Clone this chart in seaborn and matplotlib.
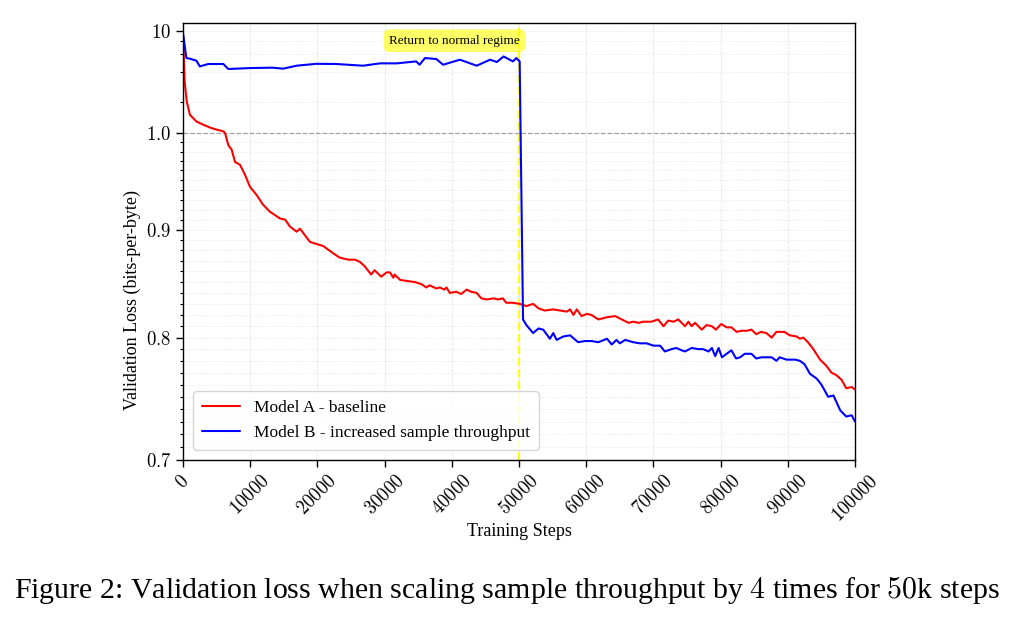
import numpy as np
import pandas as pd
import matplotlib
matplotlib.use("Agg")
import matplotlib.pyplot as plt
import matplotlib.ticker as mticker
import seaborn as sns

# ---------------- data ----------------
red_steps = [0, 250, 550, 1040, 2000, 3000, 4000, 4700, 6000, 6250, 6740, 7240, 7740, 8480, 9230,
             9970, 10920, 11900, 12900, 14430, 15180, 15920, 16920, 17400, 18900, 20880, 22370,
             23300, 24600, 25600, 26300, 27000, 28000, 28500, 29500, 30300, 30800, 31300, 31500,
             32300, 33300, 34500, 35500, 36200, 36700, 37700, 38200, 38900, 39200, 39700, 40700,
             41400, 42200, 42900, 43700, 44400, 45200, 46200, 46900, 47600, 48100, 49100, 50100,
             51100, 52100, 52900, 53800, 55100, 56100, 57100, 57600, 58100, 58600, 59300, 60100,
             60800, 61800, 63100, 64300, 65300, 66300, 67000, 67800, 68500, 69700, 70700, 71500,
             72200, 73000, 73700, 74700, 75200, 75700, 76200, 77200, 77900, 78700, 79300, 80100,
             80900, 81600, 82400, 83100, 83900, 84600, 85300, 86000, 86800, 87600, 88300, 89500,
             90300, 91300, 91800, 92300, 93000, 93800, 94800, 95700, 96500, 97200, 98000, 98700,
             99500, 100000]
red_loss = [9.3, 3.2, 2.05, 1.51, 1.30, 1.21, 1.135, 1.095, 1.04, 1.005, 0.987, 0.982, 0.969, 0.966,
            0.9555, 0.943, 0.935, 0.925, 0.918, 0.911, 0.910, 0.903, 0.898, 0.901, 0.888, 0.884,
            0.877, 0.873, 0.871, 0.871, 0.869, 0.865, 0.857, 0.861, 0.855, 0.859, 0.859, 0.854,
            0.857, 0.852, 0.851, 0.850, 0.848, 0.845, 0.847, 0.844, 0.845, 0.843, 0.845, 0.840,
            0.841, 0.839, 0.843, 0.841, 0.840, 0.835, 0.834, 0.835, 0.834, 0.835, 0.831, 0.831,
            0.830, 0.828, 0.830, 0.826, 0.824, 0.825, 0.824, 0.823, 0.825, 0.820, 0.825, 0.819,
            0.821, 0.820, 0.816, 0.818, 0.819, 0.816, 0.813, 0.814, 0.813, 0.814, 0.814, 0.816,
            0.810, 0.815, 0.814, 0.816, 0.810, 0.814, 0.810, 0.813, 0.807, 0.811, 0.810, 0.807,
            0.812, 0.809, 0.809, 0.805, 0.806, 0.806, 0.807, 0.803, 0.805, 0.804, 0.800, 0.805,
            0.805, 0.802, 0.801, 0.799, 0.800, 0.796, 0.790, 0.781, 0.776, 0.770, 0.768, 0.764,
            0.757, 0.758, 0.756]

blue_steps = [0, 500, 1000, 2000, 2500, 3770, 6000, 6750, 10000, 13300, 14900, 16900, 19800, 22800,
              26800, 29300, 31800, 34700, 35200, 36000, 37700, 38700, 41200, 43700, 45700, 46700,
              47700, 49100, 49600, 50100, 50600, 51100, 52100, 52900, 53600, 54600, 55100, 55600,
              56600, 57600, 58800, 59800, 60800, 61800, 63100, 63800, 64500, 65000, 65800, 67000,
              68000, 69000, 70000, 71000, 71700, 72700, 73400, 74200, 74700, 75700, 76700, 77400,
              78200, 78700, 79200, 79700, 80200, 80900, 81600, 82300, 82900, 83600, 84600, 85300,
              86100, 87000, 87600, 88300, 88800, 89800, 91100, 91800, 92500, 93300, 94300, 95000,
              96000, 96800, 97800, 98700, 99500, 100000]
blue_loss = [9.64, 5.47, 5.4, 5.15, 4.53, 4.78, 4.78, 4.27, 4.36, 4.4, 4.3, 4.6, 4.8, 4.78, 4.6,
             4.85, 4.85, 5.07, 4.7, 5.47, 5.35, 4.7, 5.27, 4.6, 5.27, 5.0, 5.67, 5.07, 5.47, 5.07,
             0.816, 0.811, 0.804, 0.808, 0.807, 0.799, 0.804, 0.798, 0.801, 0.802, 0.796, 0.797,
             0.797, 0.796, 0.799, 0.794, 0.798, 0.795, 0.798, 0.796, 0.795, 0.795, 0.793, 0.793,
             0.788, 0.790, 0.791, 0.789, 0.788, 0.791, 0.790, 0.790, 0.788, 0.791, 0.784, 0.791,
             0.783, 0.786, 0.789, 0.782, 0.783, 0.786, 0.786, 0.782, 0.783, 0.783, 0.783, 0.780,
             0.783, 0.781, 0.781, 0.780, 0.777, 0.769, 0.765, 0.760, 0.750, 0.751, 0.739, 0.734,
             0.735, 0.730]

x_ticks = [0, 10000, 20000, 30000, 40000, 50000, 60000, 70000, 80000, 90000, 100000]
y_ticks = [0.7, 0.8, 0.9, 1.0, 10]
y_tick_labels = ["0.7", "0.8", "0.9", "1.0", "10"]
label_a = "Model A - baseline"
label_b = "Model B - increased sample throughput"

# ---------------- style ----------------
sns.set_theme(style="ticks")
plt.rcParams["font.family"] = ["Liberation Serif", "DejaVu Serif"]
plt.rcParams["mathtext.fontset"] = "cm"
plt.rcParams["text.color"] = "black"
plt.rcParams["axes.labelcolor"] = "black"
plt.rcParams["xtick.color"] = "black"
plt.rcParams["ytick.color"] = "black"

K = 20.76  # stretch of the region below 1.0


def fwd(y):
    y = np.asarray(y, dtype=float)
    ly = np.log10(np.clip(y, 1e-9, None))
    return np.where(ly < 0, ly * K, ly)


def inv(t):
    t = np.asarray(t, dtype=float)
    return np.where(t < 0, 10 ** (t / K), 10 ** t)


fig = plt.figure(figsize=(10.14, 6.21), dpi=100)
ax = fig.add_axes([183 / 1014, 1 - 460 / 621, (855 - 183) / 1014, (460 - 23) / 621])

df_a = pd.DataFrame({"step": red_steps, "loss": red_loss})
df_b = pd.DataFrame({"step": blue_steps, "loss": blue_loss})
sns.lineplot(data=df_a, x="step", y="loss", color="red", lw=1.5, label=label_a,
             estimator=None, sort=False, ax=ax)
sns.lineplot(data=df_b, x="step", y="loss", color="blue", lw=1.5, label=label_b,
             estimator=None, sort=False, ax=ax)

ax.set_yscale("function", functions=(fwd, inv))
ax.set_ylim(0.7, 12.1)
ax.set_xlim(0, 100000)

ax.yaxis.set_major_locator(mticker.FixedLocator(y_ticks))
ax.yaxis.set_major_formatter(mticker.FixedFormatter([f"${s}$" for s in y_tick_labels]))
minor = [round(0.7 + 0.01 * i, 2) for i in range(1, 30) if i % 10 != 0] + [2, 4, 6, 8]
ax.yaxis.set_minor_locator(mticker.FixedLocator(minor))
ax.yaxis.set_minor_formatter(mticker.NullFormatter())
ax.set_xticks(x_ticks)
ax.set_xticklabels([f"${v}$" for v in x_ticks], rotation=45)

ax.tick_params(axis="both", which="major", labelsize=13.5, length=5, width=1, direction="out",
               bottom=True, left=True, color="black", labelcolor="black")
ax.tick_params(axis="y", which="minor", length=2.5, width=0.8, left=True, color="black")

ax.grid(True, axis="x", which="major", linestyle="--", linewidth=0.6, color="gray", alpha=0.2)
ax.grid(True, axis="y", which="both", linestyle="--", linewidth=0.6, color="gray", alpha=0.12)

ax.axhline(1.0, color="gray", linestyle="--", linewidth=0.9, alpha=0.7, zorder=1)
ax.axvline(50000, color="yellow", linestyle="--", linewidth=1.6, alpha=0.9, zorder=1)

ax.text(40400, 8.1, "Return to normal regime", ha="center", va="center", fontsize=9.5,
        color="black",
        bbox=dict(boxstyle="round,pad=0.4", fc="yellow", ec="none", alpha=0.6))

for s in ax.spines.values():
    s.set_color("black")
    s.set_linewidth(1.0)

ax.set_xlabel("Training Steps", fontsize=13, color="black")
ax.set_ylabel("Validation Loss (bits-per-byte)", fontsize=13, color="black")
ax.xaxis.set_label_coords(0.5, -0.145)
ax.yaxis.set_label_coords(-0.063, 0.366)

leg = ax.legend(loc="lower left", fontsize=12.5, handlelength=2.2, frameon=True, fancybox=True,
                framealpha=0.8, edgecolor="#cccccc", borderpad=0.5, borderaxespad=0.6,
                bbox_to_anchor=(0.0, 0.0))
for t in leg.get_texts():
    t.set_color("black")

fig.text(0.5, 0.05, "Figure 2: Validation loss when scaling sample throughput by $4$ times for $50$k steps",
         ha="center", va="center", fontsize=21.5, color="black")

fig.savefig("out.png", dpi=100)
